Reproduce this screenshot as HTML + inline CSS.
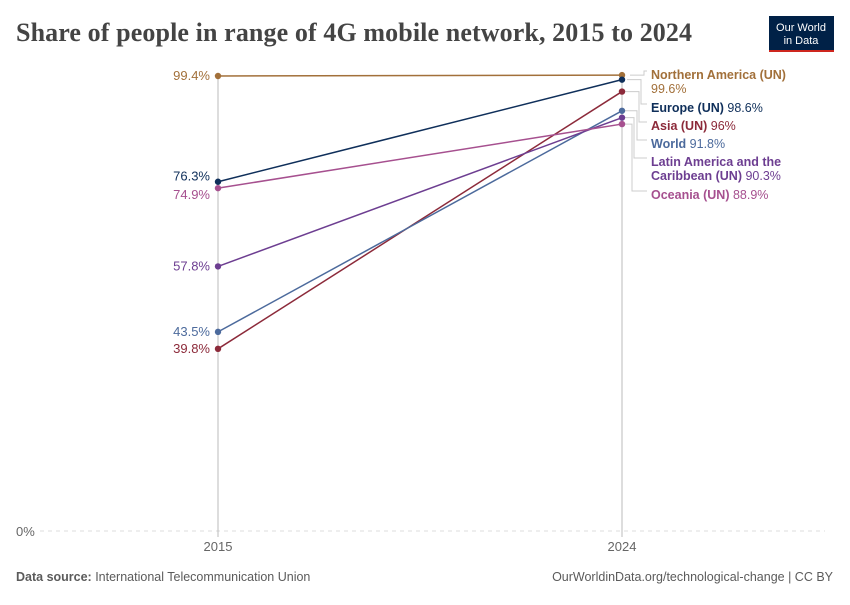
<!DOCTYPE html>
<html><head><meta charset="utf-8"><style>
body{margin:0;background:#fff;width:850px;height:600px;overflow:hidden;font-family:"Liberation Sans",sans-serif}
</style></head><body>
<svg id="c" width="850" height="600" xmlns="http://www.w3.org/2000/svg">
<text x="16" y="41" font-family="Liberation Serif,serif" font-size="26" font-weight="bold" fill="#444" textLength="676" lengthAdjust="spacing">Share of people in range of 4G mobile network, 2015 to 2024</text>
<g>
<rect x="769" y="16" width="65" height="36" fill="#002147"/><rect x="769" y="50" width="65" height="2" fill="#ce261e"/>
<text x="801" y="31" font-size="11" fill="#fff" text-anchor="middle">Our World</text>
<text x="801" y="44" font-size="11" fill="#fff" text-anchor="middle">in Data</text></g>
<text x="16" y="581" font-size="12.5" fill="#5b5b5b"><tspan font-weight="bold">Data source:</tspan> International Telecommunication Union</text>
<text x="833" y="581" font-size="12.5" fill="#5b5b5b" text-anchor="end">OurWorldinData.org/technological-change | CC BY</text>
</svg>
<script>
const years=["2015","2024"];
const names=["Northern America (UN)","Europe (UN)","Asia (UN)","World","Latin America and the Caribbean (UN)","Oceania (UN)"];
const v2015=[99.4,76.3,39.8,43.5,57.8,74.9];
const v2024=[99.6,98.6,96,91.8,90.3,88.9];
const colors=["#a2703a","#0f2f5a","#8c2a3a","#4c6a9c","#6d3e91","#a6508f"];
const labelY=[[75,89],[108],[126],[144],[162,176],[195]];
const labelText=[["Northern America (UN)","99.6%"],["Europe (UN) 98.6%"],["Asia (UN) 96%"],["World 91.8%"],["Latin America and the","Caribbean (UN) 90.3%"],["Oceania (UN) 88.9%"]];
const startLabelShift=[0,-5,0,0,0,7];
const svg=document.getElementById('c');const NS="http://www.w3.org/2000/svg";
const x=i=>218+i*404;const y=v=>531-v*(455/99.4);
function el(t,a,p){const e=document.createElementNS(NS,t);for(const k in a)e.setAttribute(k,a[k]);(p||svg).appendChild(e);return e;}
let g=el('line',{x1:40,x2:825,y1:531,y2:531,stroke:'#ddd','stroke-dasharray':'4,4'});


let t=el('text',{x:16,y:536,'font-size':13,fill:'#666'});t.textContent='0%';


years.forEach((yr,i)=>{
 const l=el('line',{x1:x(i),x2:x(i),y1:y(99.6),y2:537,stroke:'#bbb'});
 
 
 const tt=el('text',{x:x(i),y:551,'font-size':13,fill:'#666','text-anchor':'middle'});tt.textContent=yr;
 
 
});
const elbow=[644,641,639,637,634,632];
names.forEach((n,i)=>{
 const c=colors[i];
 const p=el('path',{d:`M${elbow[i]-14},${y(v2024[i])}H${elbow[i]}V${labelY[i][0]-4}H647`,fill:'none',stroke:'#ccc'});
 
 
 const ln=el('line',{x1:x(0),y1:y(v2015[i]),x2:x(1),y2:y(v2024[i]),stroke:c,'stroke-width':1.5});
 
 
 [v2015[i],v2024[i]].forEach((v,j)=>{const d=el('circle',{cx:x(j),cy:y(v),r:3.2,fill:c});
  
  });
 const lt=el('text',{x:210,y:y(v2015[i])+4+startLabelShift[i],'font-size':13,fill:c,'text-anchor':'end'});
 lt.textContent=v2015[i]+'%';
 
 
 labelText[i].forEach((s,k)=>{
  const tx=el('text',{x:651,y:labelY[i][k]+4,'font-size':12.5,fill:c});
  
  
  if(/^[\d.]+%$/.test(s)){tx.textContent=s;return;}
  const m=s.match(/^(.*?)( [\d.]+%)$/);
  if(m){const b=el('tspan',{'font-weight':'bold'},tx);b.textContent=m[1];const r=el('tspan',{},tx);r.textContent=m[2];}
  else{tx.setAttribute('font-weight','bold');tx.textContent=s;}
 });
});
</script>
</body></html>
